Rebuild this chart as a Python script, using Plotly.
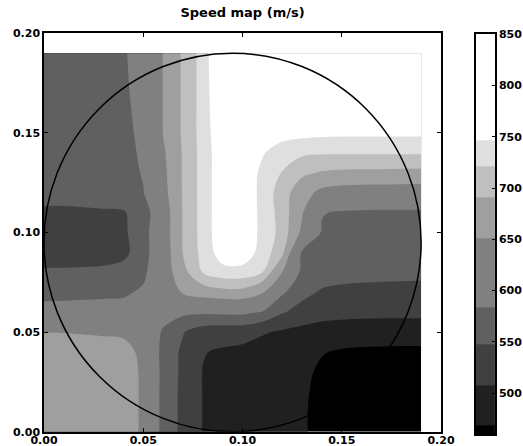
import plotly.graph_objects as go

# grid positions (m)
x_pos = [0.00, 0.01, 0.02, 0.03, 0.04, 0.05, 0.06, 0.07, 0.08, 0.09,
         0.10, 0.11, 0.12, 0.13, 0.14, 0.15, 0.16, 0.17, 0.18, 0.19]
y_pos = [0.00, 0.01, 0.02, 0.03, 0.04, 0.05, 0.06, 0.07, 0.08, 0.09,
         0.10, 0.11, 0.12, 0.13, 0.14, 0.15, 0.16, 0.17, 0.18, 0.19]

# speed (m/s), one row per y position
r00 = [682, 680, 677, 674, 670, 645, 570, 540, 507, 500, 492, 485, 478, 471, 464, 460, 460, 460, 459, 459]
r01 = [682, 680, 677, 674, 670, 645, 570, 540, 507, 500, 492, 485, 478, 471, 464, 461, 461, 460, 460, 460]
r02 = [681, 680, 677, 674, 670, 645, 570, 540, 507, 500, 492, 486, 479, 472, 464, 462, 462, 461, 461, 461]
r03 = [680, 679, 676, 673, 669, 645, 571, 541, 507, 500, 493, 487, 481, 473, 466, 464, 464, 463, 463, 463]
r04 = [676, 675, 673, 670, 664, 642, 570, 542, 510, 503, 497, 490, 484, 477, 470, 467, 466, 466, 466, 466]
r05 = [650, 650, 648, 646, 645, 615, 580, 550, 530, 525, 525, 512, 503, 495, 485, 480, 478, 477, 476, 476]
r06 = [595, 596, 597, 598, 600, 610, 598, 592, 590, 592, 592, 582, 551, 535, 528, 525, 523, 522, 522, 522]
r07 = [575, 575, 576, 577, 578, 590, 625, 655, 672, 680, 680, 655, 590, 558, 544, 540, 539, 538, 538, 538]
r08 = [556, 556, 557, 558, 560, 575, 625, 680, 722, 738, 738, 721, 650, 574, 565, 560, 558, 557, 556, 555]
r09 = [522, 522, 524, 528, 540, 566, 625, 692, 730, 760, 762, 738, 700, 578, 568, 563, 562, 562, 562, 562]
r10 = [520, 520, 522, 526, 543, 566, 628, 693, 732, 765, 770, 739, 712, 642, 580, 577, 572, 570, 569, 568]
r11 = [543, 543, 544, 545, 546, 560, 628, 693, 732, 765, 770, 739, 710, 655, 586, 580, 578, 577, 577, 577]
r12 = [558, 558, 559, 561, 562, 582, 637, 694, 732, 765, 770, 738, 708, 668, 640, 632, 629, 628, 627, 627]
r13 = [560, 560, 562, 564, 568, 587, 641, 694, 732, 765, 770, 740, 720, 698, 688, 685, 684, 684, 683, 683]
r14 = [561, 561, 563, 566, 572, 590, 645, 694, 732, 765, 775, 750, 731, 726, 724, 724, 724, 724, 724, 724]
r15 = [562, 563, 565, 568, 575, 592, 652, 696, 733, 768, 785, 775, 760, 755, 753, 752, 752, 752, 752, 752]
r16 = [562, 563, 565, 568, 577, 594, 652, 696, 733, 772, 795, 800, 790, 785, 782, 781, 780, 780, 780, 780]
r17 = [563, 564, 566, 569, 579, 595, 652, 696, 733, 775, 808, 818, 812, 806, 803, 801, 800, 800, 800, 800]
r18 = [563, 564, 566, 569, 580, 596, 652, 696, 733, 778, 818, 832, 830, 822, 816, 813, 811, 810, 810, 810]
r19 = [563, 564, 566, 569, 581, 597, 652, 696, 733, 780, 825, 845, 850, 842, 832, 824, 820, 818, 816, 815]
speed = [r00, r01, r02, r03, r04, r05, r06, r07, r08, r09,
         r10, r11, r12, r13, r14, r15, r16, r17, r18, r19]

# contour levels (m/s) and grey value of each band
levels = [460, 469, 508, 548, 584, 651, 691, 721, 747, 850]
band_grey = [0, 32, 64, 96, 128, 159, 191, 223, 255]
cbar_ticks = [500, 550, 600, 650, 700, 750, 800, 850]
axis_ticks = [0.00, 0.05, 0.10, 0.15, 0.20]
title_text = "Speed map (m/s)"


def grey(g):
    return f"rgb({g},{g},{g})"


fig = go.Figure()

# base band (everything) then each higher band stacked on top
base_value = levels[0] - 50
fig.add_trace(go.Contour(
    x=x_pos, y=y_pos, z=speed,
    contours=dict(type="constraint", operation="<", value=base_value, showlines=False),
    fillcolor=grey(band_grey[0]), line=dict(width=0), showscale=False,
    hoverinfo="skip", xaxis="x", yaxis="y"))
for k in range(1, len(band_grey)):
    fig.add_trace(go.Contour(
        x=x_pos, y=y_pos, z=speed,
        contours=dict(type="constraint", operation="<", value=levels[k], showlines=False),
        fillcolor=grey(band_grey[k]), line=dict(width=0, smoothing=1), showscale=False,
        hoverinfo="skip", xaxis="x", yaxis="y"))

# colour bar drawn as its own small axis
n = len(band_grey)
fig.add_trace(go.Heatmap(
    x=[0, 1], y=levels, z=[[k] for k in range(n)],
    zmin=0, zmax=n - 1,
    colorscale=[[k / (n - 1), grey(band_grey[k])] for k in range(n)],
    showscale=False, hoverinfo="skip", xaxis="x2", yaxis="y2"))

bold = dict(family="DejaVu Sans", size=11, color="black", weight="bold")

fig.update_layout(
    width=523, height=446,
    margin=dict(l=0, r=0, t=0, b=0, autoexpand=False),
    paper_bgcolor="white", plot_bgcolor="white",
    showlegend=False,
    font=bold,
    title=dict(text=title_text, x=0.4637, xanchor="center", y=0.972, yanchor="middle",
               automargin=False,
               font=dict(family="DejaVu Sans", size=13, color="black", weight="bold")),
    xaxis=dict(domain=[0.0841, 0.8432], range=[axis_ticks[0], axis_ticks[-1]],
               tickvals=axis_ticks, tickformat=".2f", ticks="inside", ticklen=4,
               tickcolor="black", mirror="allticks", showline=True, linecolor="black",
               linewidth=1.5, showgrid=False, zeroline=False, tickfont=bold, anchor="y",
               automargin=False, ticklabelstandoff=-3),
    yaxis=dict(domain=[0.0321, 0.9253], range=[axis_ticks[0], axis_ticks[-1]],
               tickvals=axis_ticks, tickformat=".2f", ticks="inside", ticklen=4,
               tickcolor="black", mirror="allticks", showline=True, linecolor="black",
               linewidth=1.5, showgrid=False, zeroline=False, tickfont=bold, anchor="x",
               automargin=False),
    xaxis2=dict(domain=[0.910, 0.9465], range=[0, 1], showticklabels=False, ticks="",
                showline=True, mirror=True, linecolor="black", linewidth=1.5,
                showgrid=False, zeroline=False, anchor="y2", automargin=False),
    yaxis2=dict(domain=[0.0265, 0.9231], range=[levels[0], levels[-1]], side="right",
                tickvals=cbar_ticks, ticks="inside", ticklen=3, tickcolor="black",
                showline=True, mirror=True, linecolor="black", linewidth=1.5,
                showgrid=False, zeroline=False, tickfont=bold, anchor="x2",
                automargin=False, ticklabelstandoff=0),
)

fig.add_shape(type="circle", xref="x", yref="y",
              x0=x_pos[0], x1=x_pos[-1], y0=y_pos[0], y1=y_pos[-1],
              line=dict(color="black", width=1.5), layer="above")

fig.write_html(
    "out.html",
    config={"displayModeBar": False},
    post_script="document.body.style.margin='0';document.body.style.overflow='hidden';",
)
